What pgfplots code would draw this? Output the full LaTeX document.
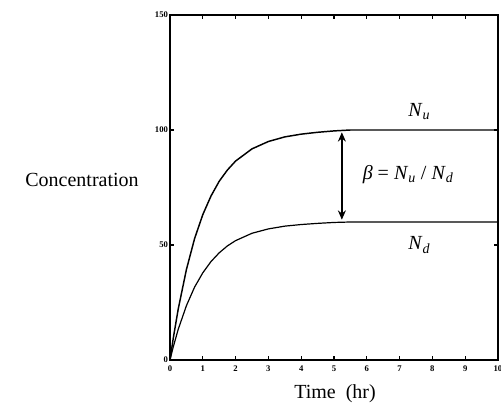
\documentclass[border=0pt]{standalone}
\usepackage{fontspec}
\setmainfont{Liberation Serif}
\usepackage{pgfplots}
\pgfplotsset{compat=1.18}
\usetikzlibrary{arrows.meta}

\begin{document}
\begin{tikzpicture}
  \useasboundingbox (-127.5pt,-34.5pt) rectangle (248.25pt,270pt);
  \begin{axis}[
    at={(0,0)}, anchor=south west,
    scale only axis,
    width=246pt, height=258.75pt,
    xmin=0, xmax=10, ymin=0, ymax=150,
    xtick={0,1,...,10},
    ytick={0,50,100,150},
    tick align=inside,
    major tick length=3pt,
    tick style={line width=1pt, black},
    axis line style={line width=1.6pt},
    ticklabel style={font=\fontsize{6.5}{7}\selectfont\bfseries},
    /pgf/number format/assume math mode=true,
    xticklabel style={yshift=-1pt},
    yticklabel style={xshift=2pt},
    clip=false,
  ]
    % N_u
    \addplot[black, line width=1.1pt] coordinates {
      (0,0) (0.1,9.5) (0.25,22.1) (0.5,39.3) (0.75,52.8) (1,63.2)
      (1.25,71.3) (1.5,77.7) (1.75,82.6) (2,86.5) (2.5,91.8)
      (3,95.0) (3.5,97.0) (4,98.2) (4.5,99.0) (5,99.6) (5.5,100)
      (10,100)
    };
    % N_d
    \addplot[black, line width=0.9pt] coordinates {
      (0,0) (0.1,5.7) (0.25,13.3) (0.5,23.6) (0.75,31.7) (1,37.9)
      (1.25,42.8) (1.5,46.6) (1.75,49.6) (2,51.9) (2.5,55.1)
      (3,57.0) (3.5,58.2) (4,58.9) (4.5,59.4) (5,59.8) (5.5,60)
      (10,60)
    };
    \draw[line width=1pt, {Stealth[length=7pt,width=6pt]}-{Stealth[length=7pt,width=6pt]}]
      (axis cs:5.24,99) -- (axis cs:5.24,61);
    \node[font=\fontsize{15}{17}\selectfont] at (axis cs:7.6,108)
      {\textit{N}\textsubscript{\textit{u}}};
    \node[font=\fontsize{15}{17}\selectfont] at (axis cs:7.6,50)
      {\textit{N}\textsubscript{\textit{d}}};
    \node[font=\fontsize{15}{17}\selectfont] at (axis cs:7.26,80.5)
      {\textit{β} = \textit{N}\textsubscript{\textit{u}} / \textit{N}\textsubscript{\textit{d}}};
  \end{axis}
  \node[font=\fontsize{15}{17}\selectfont] at (-66pt,135pt) {Concentration};
  \node[font=\fontsize{15}{17}\selectfont] at (123.75pt,-25.5pt) {Time\ \ (hr)};
\end{tikzpicture}
\end{document}
